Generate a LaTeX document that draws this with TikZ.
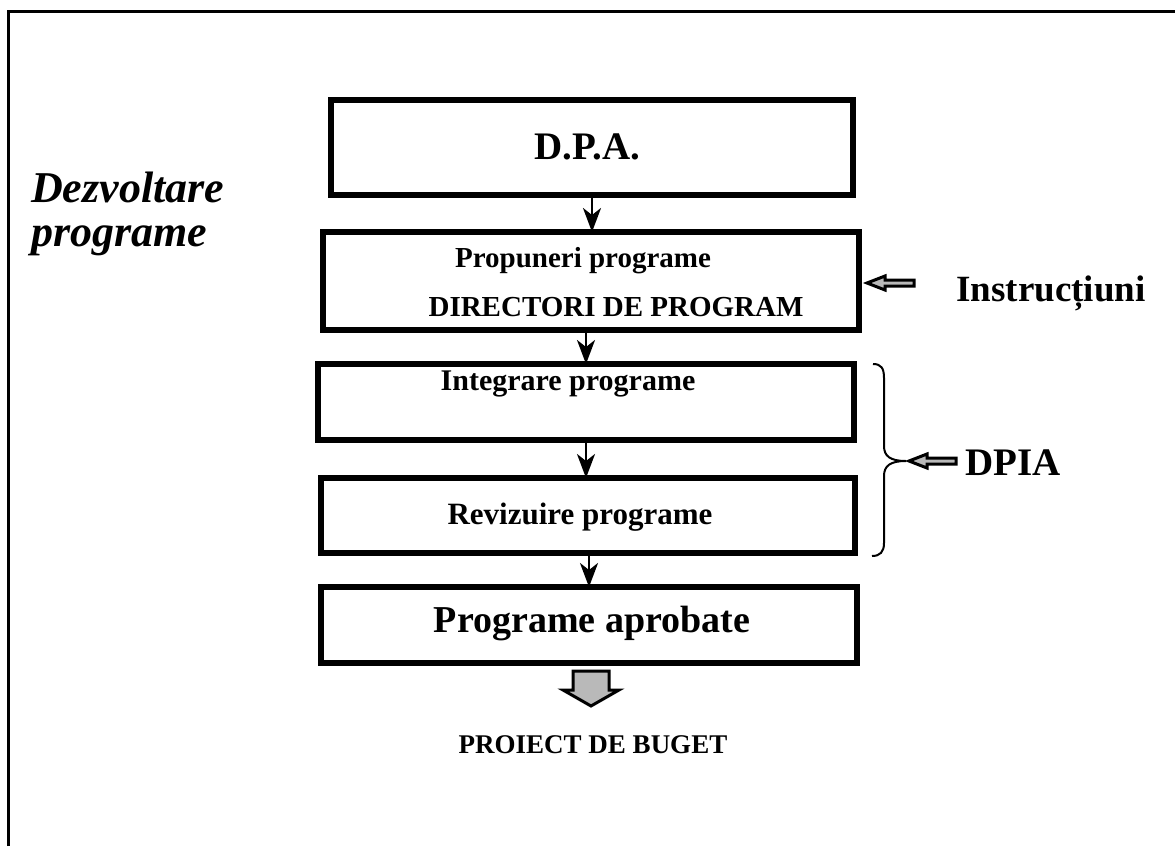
\documentclass[tikz,border=0pt]{standalone}
\usepackage{fontspec}
\setmainfont{Liberation Serif}
\usetikzlibrary{arrows.meta,calc}
\begin{document}
\begin{tikzpicture}[x=1pt,y=-1pt,
  box/.style={draw,line width=6pt,inner sep=0pt,outer sep=0pt},
  lbl/.style={inner sep=0pt,font=\bfseries},
  flow/.style={line width=2.5pt,-{Stealth[length=24pt,width=18pt,inset=7pt]}},
  hollow/.style={draw=black,line width=3pt,fill=gray!55,line join=miter}]
\useasboundingbox (0,0) rectangle (1175,846);
% frame
\draw[line width=3pt] (8.5,846) -- (8.5,11.5) -- (1175,11.5);
% boxes
\node[box,minimum width=522pt,minimum height=95pt] (dpa) at (592,147.5) {};
\node[box,minimum width=536pt,minimum height=98pt] (prop) at (591,281) {};
\node[box,minimum width=536pt,minimum height=76pt] (integ) at (586,402) {};
\node[box,minimum width=534pt,minimum height=75pt] (reviz) at (588,515.5) {};
\node[box,minimum width=536pt,minimum height=76pt] (aprob) at (589,625) {};
% texts
\node[lbl,font=\bfseries\fontsize{39}{44}\selectfont] (tdpa) at (587,147) {D.P.A.};
\node[lbl,font=\bfseries\fontsize{29}{32}\selectfont] (tprop) at (583,261) {Propuneri programe};
\node[lbl,font=\bfseries\fontsize{29}{32}\selectfont] (tdir) at (616,307) {DIRECTORI DE PROGRAM};
\node[lbl,font=\bfseries\fontsize{30}{34}\selectfont] (tinteg) at (568,384) {Integrare programe};
\node[lbl,font=\bfseries\fontsize{31}{34}\selectfont] (treviz) at (580,517) {Revizuire programe};
\node[lbl,font=\bfseries\fontsize{38}{42}\selectfont] (taprob) at (592,624) {Programe aprobate};
\node[lbl,font=\bfseries\fontsize{27}{30}\selectfont] (tbuget) at (593,745) {PROIECT DE BUGET};
\node[lbl,font=\bfseries\fontsize{37}{40}\selectfont] (tinstr) at (1051,293) {Instrucțiuni};
\node[lbl,font=\bfseries\fontsize{39}{42}\selectfont,anchor=west] (tdpia) at (965,463) {DPIA};
\node[lbl,font=\bfseries\itshape\fontsize{44}{44}\selectfont,align=left,anchor=north west] (tdev) at (31,172) {Dezvoltare\\programe};
% flow arrows
\draw[flow] (dpa.south) -- (dpa.south |- prop.north);
\draw[flow] (integ.north |- prop.south) -- (integ.north);
\draw[flow] (integ.south) -- (integ.south |- reviz.north);
\draw[flow] (aprob.north |- reviz.south) -- (aprob.north);
% instructions arrow
\coordinate (itip) at (867,283);
\draw[hollow] (itip) -- ++(18,-7) -- ++(0,4) -- ++(29,0) -- ++(0,6) -- ++(-29,0) -- ++(0,4) -- cycle;
% brace
\coordinate (btip) at (906,461);
\draw[line width=2pt] (873,364) .. controls (881,364) and (884,368) .. (884,378)
  -- (884,446) .. controls (884,456) and (890,461) .. (btip)
  .. controls (890,461) and (884,466) .. (884,476)
  -- (884,543) .. controls (884,552) and (880,556) .. (872,556);
% DPIA arrow
\draw[hollow] (btip) ++(3,0) -- ++(18,-7) -- ++(0,4) -- ++(29,0) -- ++(0,6) -- ++(-29,0) -- ++(0,4) -- cycle;
% block arrow to budget
\coordinate (btop) at (591,671);
\draw[hollow,line width=3pt] (btop) ++(-18,0) -- ++(36,0) -- ++(0,19) -- ++(10,0) -- (591,706) -- (563,690) -- (573,690) -- cycle;
\end{tikzpicture}
\end{document}
